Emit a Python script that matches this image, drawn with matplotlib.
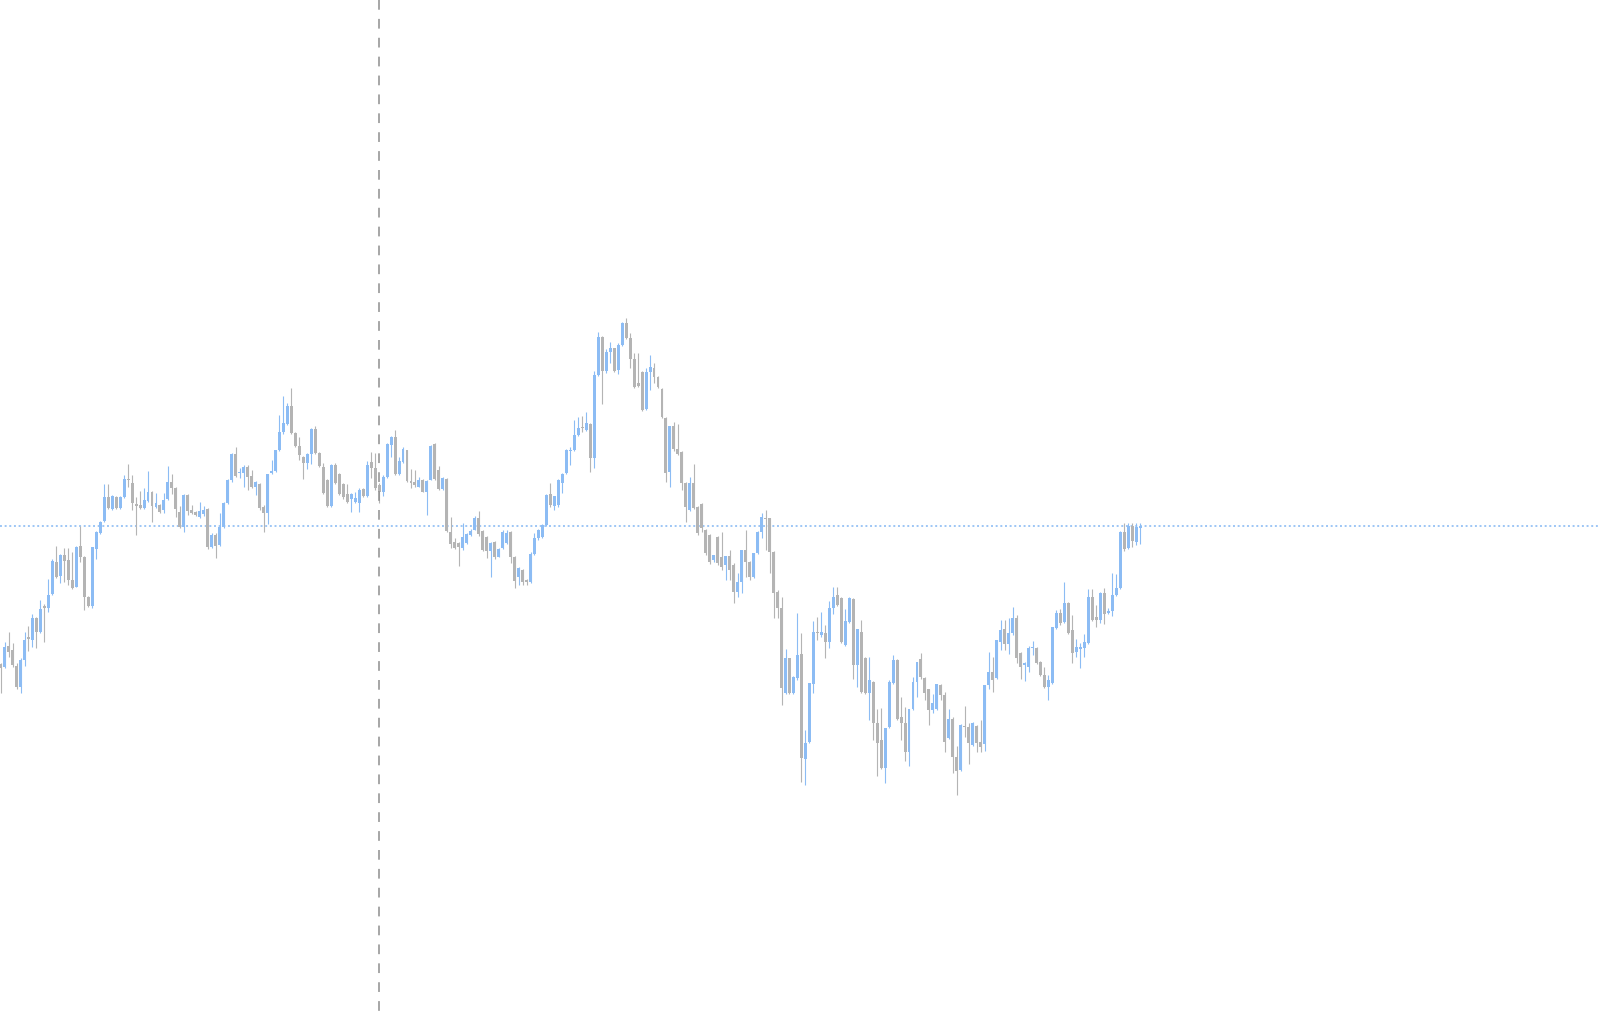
import matplotlib
matplotlib.use("Agg")
import matplotlib.pyplot as plt
import numpy as np

# OHLC values (arbitrary price units)
opens = [347,344,365,361,345,324,351,374,371,393,379,405,403,417,449,435,456,451,431,424,
         465,454,414,405,462,478,490,514,502,514,503,514,532,528,507,506,503,510,519,504,
         506,501,512,529,523,499,484,516,501,499,494,497,502,464,476,466,484,508,531,557,
         538,538,544,535,524,527,504,498,538,540,561,579,587,605,578,565,554,548,557,582,
         558,544,531,505,546,537,527,517,512,509,508,522,515,549,543,526,519,534,566,574,
         537,549,561,530,529,524,531,519,531,567,541,522,532,479,469,468,463,468,476,481,
         493,480,474,460,469,454,463,468,479,454,434,441,431,429,457,473,474,486,517,505,
         506,528,538,560,561,576,584,581,587,553,636,674,640,659,663,641,666,688,673,652,
         628,639,602,639,643,634,622,593,539,585,562,559,528,501,528,504,507,481,476,451,
         474,454,446,455,446,419,429,461,449,434,458,479,493,493,459,419,403,318,353,318,
         333,357,252,269,327,379,376,378,369,403,416,413,366,389,412,346,379,353,318,329,
         288,271,243,284,328,351,294,288,259,302,329,352,333,322,301,302,326,316,273,292,
         254,241,285,284,266,285,269,267,326,339,333,369,382,367,378,393,358,346,344,363,
         363,349,336,324,328,383,398,389,408,381,359,362,363,368,414,394,391,418,398,400,
         416,423,479,463,485,469,483]
highs = [348,369,379,368,348,353,379,385,397,394,411,407,432,452,465,457,463,463,459,465,
         485,455,415,464,480,490,527,527,516,515,515,536,547,536,514,520,523,540,520,518,
         507,518,545,537,524,505,517,517,506,500,509,505,503,478,478,498,509,532,558,564,
         543,546,546,541,530,528,506,537,551,561,596,615,608,623,579,574,555,558,583,585,
         559,548,532,547,548,538,528,527,518,519,523,523,550,559,558,528,536,568,575,581,
         554,564,561,542,541,534,532,531,566,568,545,534,533,494,473,469,488,478,482,495,
         500,481,475,469,470,463,481,481,480,455,444,442,432,459,478,482,487,517,528,515,
         532,538,562,564,591,594,595,599,588,640,679,675,662,669,663,668,689,693,678,658,
         658,640,643,656,648,635,623,594,585,589,587,560,529,534,547,505,508,482,477,456,
         475,479,455,461,448,438,461,481,450,458,480,498,501,493,460,421,414,362,353,335,
         398,378,281,328,390,394,399,386,410,424,424,414,402,414,413,382,391,354,354,330,
         302,303,283,331,356,352,314,304,302,334,349,358,334,322,317,327,327,319,302,294,
         265,287,305,288,289,286,291,326,359,354,371,391,391,393,404,396,359,349,365,370,
         364,350,344,336,384,401,402,429,409,396,372,368,377,422,422,406,419,423,403,438,
         437,480,488,488,488,488,488]
lows = [318,343,354,344,322,318,345,360,364,363,378,369,399,416,433,428,429,426,422,424,
        449,401,404,403,452,477,489,502,501,502,502,513,524,501,476,502,502,509,489,503,
        498,498,511,517,494,483,479,496,497,495,493,495,462,463,453,465,483,507,529,534,
        533,524,521,523,516,501,479,487,537,539,560,577,586,577,564,551,532,542,547,557,
        544,517,504,504,527,516,512,508,499,508,499,514,514,533,521,508,515,533,554,536,
        536,548,529,523,524,524,519,496,531,531,521,521,479,463,462,445,461,467,475,481,
        475,460,453,434,452,454,462,467,448,423,426,426,426,428,456,471,473,485,504,501,
        504,518,537,546,560,575,579,580,539,543,635,607,638,648,639,637,665,672,643,623,
        624,600,601,621,628,623,593,529,524,560,556,521,489,500,502,476,479,456,447,449,
        446,441,431,431,408,414,418,434,431,433,457,473,461,438,393,393,306,317,317,317,
        331,229,226,268,318,371,374,353,363,397,405,368,365,388,332,324,318,317,291,271,
        235,242,228,283,327,291,271,250,245,301,314,332,311,286,298,301,311,259,272,238,
        216,240,274,247,265,259,259,260,322,319,332,361,361,357,376,348,332,330,339,356,
        347,335,323,311,327,382,386,388,377,348,354,343,354,367,390,384,388,387,397,395,
        415,422,460,462,464,466,467]
closes = [343,364,359,346,324,351,371,372,393,379,402,403,416,450,434,456,450,431,423,464,
          454,414,405,464,479,489,514,503,515,503,514,532,531,508,505,503,511,519,505,508,
          499,511,529,523,502,484,516,500,498,496,500,501,464,476,465,484,508,531,557,535,
          539,544,534,524,529,503,498,537,540,561,579,588,605,578,565,556,548,557,582,558,
          545,518,505,546,528,517,514,509,517,513,521,515,546,543,523,519,534,567,574,537,
          550,562,530,528,526,531,519,530,565,532,522,533,480,467,463,464,474,477,480,493,
          477,461,460,468,454,462,479,478,454,430,443,429,429,457,473,481,486,516,506,515,
          531,537,561,561,576,583,583,588,553,636,674,640,659,663,640,666,688,673,652,624,
          625,601,639,644,634,624,594,538,585,562,557,528,504,528,503,478,483,458,449,456,
          448,444,455,441,419,429,461,449,434,458,479,494,492,459,418,403,323,353,318,334,
          356,253,268,328,379,378,379,369,403,414,406,369,390,413,346,382,319,318,331,288,
          268,243,283,329,351,292,288,259,302,329,349,334,318,301,308,327,316,269,292,254,
          240,286,284,268,288,268,264,326,339,331,371,381,367,378,393,353,344,348,363,364,
          348,336,324,331,384,398,388,408,378,358,364,364,369,414,391,391,418,397,400,416,
          423,479,462,485,470,484,485]

crosshair_bar = 95

UP = "#8cbcf4"
DOWN = "#b4b4b4"

plt.rcParams["lines.scale_dashes"] = False

fig = plt.figure(figsize=(16, 10.11), dpi=100)
ax = fig.add_axes([0, 0, 1, 1])
ax.set_axis_off()

n = len(closes)
o = np.array(opens, float)
h = np.array(highs, float)
l = np.array(lows, float)
c = np.array(closes, float)
x = np.arange(n)
up = c >= o
cols = np.where(up, UP, DOWN)

step_px = 1139.5 / (n - 1)
xmin = -0.6 / step_px
xmax = xmin + 1600 / step_px
ax.set_xlim(xmin, xmax)
ax.set_ylim(0, 1011)

# last price dotted line
ax.axhline(c[-1], color="#8cbcf4", lw=1.2, linestyle=(0, (1.4, 1.95)), zorder=1)

# wicks
ax.vlines(x, l, h, colors=cols, linewidth=0.8, zorder=2)
# bodies
bottom = np.minimum(o, c)
height = np.maximum(np.abs(c - o), 1.3)
ax.bar(x, height, bottom=bottom, width=0.74, color=cols, linewidth=0, zorder=3)

# crosshair vertical dashed line (drawn from top)
ax.plot([crosshair_bar, crosshair_bar], [1011, 0], color="#8e8e8e", lw=1.1,
        linestyle=(0, (7.0, 6.6)), zorder=4, solid_capstyle="butt", dash_capstyle="butt")

fig.savefig("out.png", dpi=100, facecolor="white")
